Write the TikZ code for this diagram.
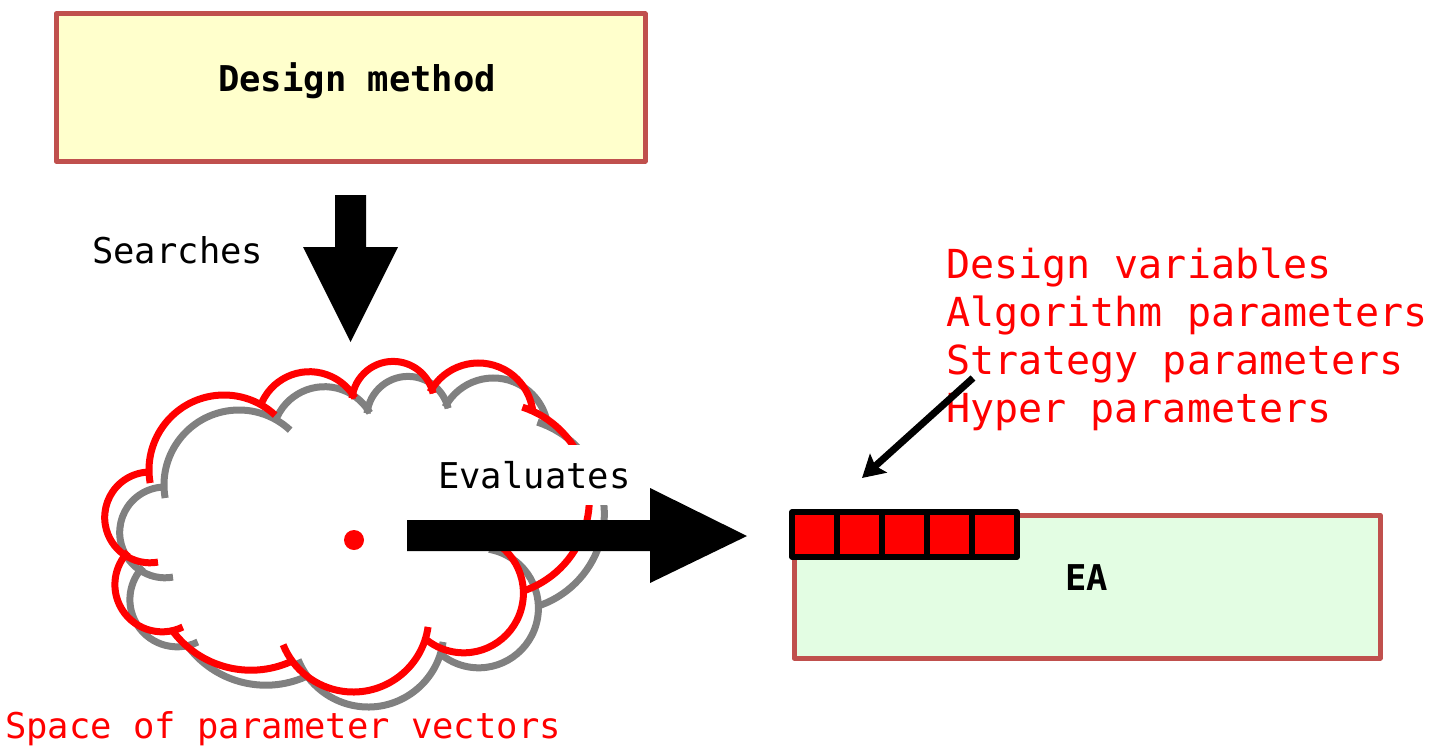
\documentclass[tikz,border=0pt]{standalone}
\usepackage{fontspec}
\setmonofont{DejaVu Sans Mono}
\usetikzlibrary{arrows.meta}
\definecolor{boxred}{HTML}{C0504D}
\definecolor{boxyellow}{HTML}{FFFFCC}
\definecolor{boxgreen}{HTML}{E3FDE3}
\tikzset{
  box/.style={draw=boxred,line width=5pt,inner sep=0pt},
  cell/.style={draw=black,fill=red,line width=5.5pt,minimum size=45pt,inner sep=0pt},
  lbl/.style={inner sep=0pt,anchor=base west,font=\ttfamily\fontsize{35.5}{40}\selectfont},
  boldlbl/.style={lbl,font=\ttfamily\bfseries\fontsize{35.5}{40}\selectfont},
  redlbl/.style={lbl,text=red},
}
\begin{document}
\begin{tikzpicture}[x=1pt,y=1pt,>={Stealth[length=22pt,width=25pt,inset=4pt]},line join=round]
\useasboundingbox (0,0) rectangle (1434,-752);
\def\puffs{224/470/75/190/47, 309.5/424/52.3/155/30, 393/402.6/41.2/174/13, 478.4/417.8/54.8/152/5, 492.5/499.2/96.8/72/-73, 463.7/593.1/59.7/80/-131, 353.2/616.4/75.6/-8/-158, 250.9/572.6/97.6/-66/-144, 162.1/584.6/47.2/-64/-224, 150.1/517.4/45.4/-80/-270}
% design method
\node[box,fill=boxyellow,minimum width=589pt,minimum height=147pt] (design) at (350.5,-87.5) {};
\node[boldlbl] (designlbl) at (218,-91) {Design method};
\fill (335,-195) -- (366,-195) -- (366,-247) -- (398,-247) -- (350.5,-342) -- (303,-247) -- (335,-247) -- cycle;
\node[lbl] (searches) at (92,-263) {Searches};
% cloud, grey copy first
\foreach \dx/\dy/\col in {15/-15/gray,0/0/red}
  \foreach \cx/\cy/\r/\a/\b in \puffs
    \draw[\col,line width=7pt] (\cx+\dx,-\cy+\dy) ++(\a:\r) arc[start angle=\a,end angle=\b,radius=\r];
\fill[red] (354,-540) circle[radius=10];
\node[redlbl] (space) at (5,-738) {Space of parameter vectors};
% evaluates
\node[lbl,fill=white,inner xsep=4pt,inner ysep=16pt] (evaluates) at (434,-488) {Evaluates};
\fill (407,-520) -- (650,-520) -- (650,-488) -- (747,-536) -- (650,-583) -- (650,-551) -- (407,-551) -- cycle;
% EA
\node[box,fill=boxgreen,minimum width=586pt,minimum height=143pt] (ea) at (1087,-586.5) {};
\node[boldlbl] (ealbl) at (1065,-590) {EA};
\foreach \i in {0,...,4}
  \node[cell] (c\i) at (814.5+45*\i,-534.5) {};
% parameter names
\foreach \t [count=\k from 0] in {Design variables,Algorithm parameters,Strategy parameters,Hyper parameters}
  \node[redlbl,font=\ttfamily\fontsize{40}{44}\selectfont] (p\k) at (946,-278-48*\k) {\t};
\coordinate (pin) at (973,-378);
\coordinate (pout) at (862,-478);
\draw[->,line width=7pt] (pin) -- (pout);
\end{tikzpicture}
\end{document}
